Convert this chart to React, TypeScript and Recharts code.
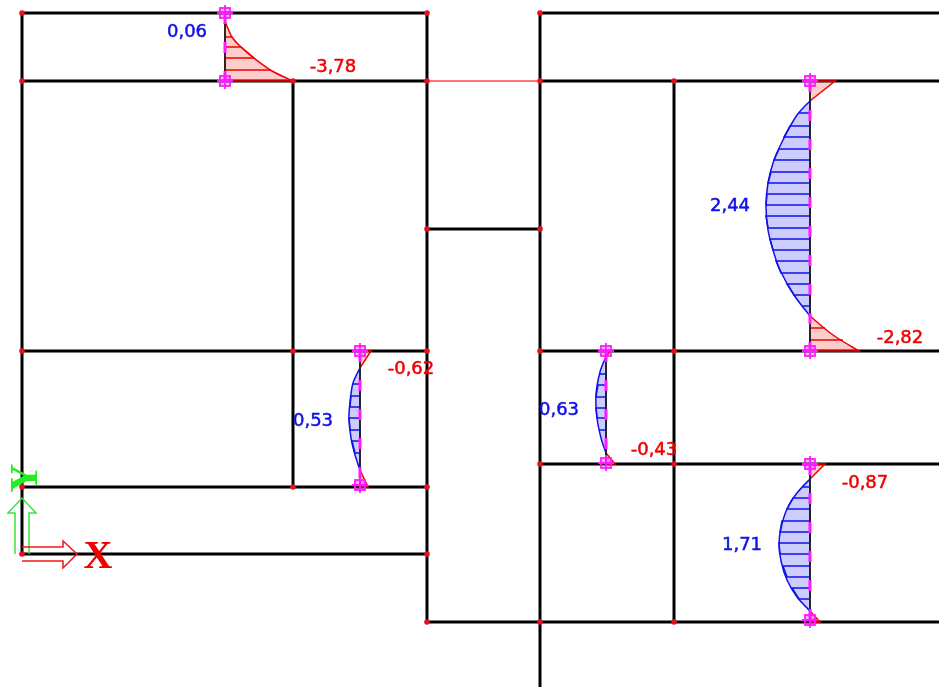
import React from "react";
import { LabelList, Scatter, ScatterChart, XAxis, YAxis } from "recharts";

type Pt = { x: number; y: number };
const pts = (rows: number[][]): Pt[] => rows.map(([x, y]) => ({ x, y }));

// frame members, drawing units
const frameLines = [
  [[22, 13], [427, 13]],
  [[540, 13], [939, 13]],
  [[22, 81], [427, 81]],
  [[540, 81], [939, 81]],
  [[427, 229], [540, 229]],
  [[22, 351], [427, 351]],
  [[540, 351], [939, 351]],
  [[540, 464], [939, 464]],
  [[22, 487], [427, 487]],
  [[22, 554], [427, 554]],
  [[427, 622], [939, 622]],
  [[22, 13], [22, 554]],
  [[427, 13], [427, 622]],
  [[540, 13], [540, 687]],
  [[293, 81], [293, 487]],
  [[674, 81], [674, 622]],
];
const linkLine = [[427, 81], [540, 81]];
const nodes = [
  [22, 13], [427, 13], [540, 13], [22, 81], [293, 81], [427, 81], [540, 81], [674, 81],
  [427, 229], [540, 229], [22, 351], [293, 351], [427, 351], [540, 351], [674, 351],
  [540, 464], [674, 464], [22, 487], [293, 487], [427, 487], [22, 554], [427, 554],
  [427, 622], [540, 622], [674, 622],
];
const checkedMembers = [
  [[225, 13], [225, 81]],
  [[810, 81], [810, 351]],
  [[360, 351], [360, 485]],
  [[606, 351], [606, 463]],
  [[810, 464], [810, 620]],
];

// moment diagrams: curve points, optional closing corner, hatch rows as [y, end x]
const redA = [[225, 21], [232, 37], [242, 48], [255, 59], [272, 71], [293, 81]];
const redAHatch = [[37, 232], [47, 241], [58, 254], [70, 270]];
const redB1 = [[810, 81], [835, 81], [810, 101]];
const blueB = [[810, 101], [797, 115], [784, 138], [774, 160], [768, 183], [766, 207], [768, 230], [773, 250], [780, 270], [794, 295], [810, 316]];
const blueBHatch = [[113, 799], [126, 790], [137, 784], [149, 779], [160, 774], [172, 771], [183, 768], [194, 767], [205, 766], [216, 766], [228, 768], [239, 770], [250, 773], [261, 776], [273, 781], [284, 787], [295, 794], [306, 802]];
const redB2 = [[810, 316], [833, 335], [859, 351]];
const redB2Hatch = [[328, 825], [340, 843]];
const redC1 = [[360, 351], [371, 351], [360, 368]];
const blueC = [[360, 368], [353, 383], [350, 402], [349, 418], [351, 438], [355, 455], [360, 470]];
const blueCHatch = [[384, 353], [396, 351], [407, 350], [418, 349], [430, 350], [441, 352], [453, 355]];
const redC2 = [[360, 470], [368, 487], [360, 487]];
const redD1 = [[606, 351], [610, 351], [606, 357]];
const blueD = [[606, 357], [600, 372], [596, 395], [597, 418], [601, 438], [606, 453]];
const blueDHatch = [[374, 600], [385, 598], [397, 596], [408, 596], [418, 597], [430, 599]];
const redD2 = [[606, 453], [615, 464], [606, 464]];
const redE1 = [[810, 464], [825, 464], [810, 479]];
const blueE = [[810, 479], [797, 493], [787, 509], [781, 528], [779, 544], [781, 561], [787, 580], [797, 597], [810, 611]];
const blueEHatch = [[487, 803], [498, 793], [509, 787], [521, 782], [532, 780], [543, 779], [554, 780], [566, 783], [577, 787], [588, 792], [599, 799]];
const redE2 = [[810, 611], [820, 622], [810, 622]];

const markers = [[225, 13], [225, 81], [810, 81], [810, 351], [360, 351], [360, 485], [606, 351], [606, 463], [810, 464], [810, 620]];

const blueLabels = [
  { x: 187, y: 31, text: "0,06" },
  { x: 730, y: 205, text: "2,44" },
  { x: 313, y: 420, text: "0,53" },
  { x: 559, y: 409, text: "0,63" },
  { x: 742, y: 544, text: "1,71" },
];
const redLabels = [
  { x: 333, y: 66, text: "-3,78" },
  { x: 900, y: 337, text: "-2,82" },
  { x: 411, y: 368, text: "-0,62" },
  { x: 654, y: 449, text: "-0,43" },
  { x: 865, y: 482, text: "-0,87" },
];
const axisLetters = [
  { x: 98, y: 554, text: "X", color: "#f00000", turn: false },
  { x: 23, y: 478, text: "Y", color: "#22ee22", turn: true },
];

const greenArrow = [[15, 554], [15, 513], [8, 513], [22, 498], [36, 513], [29, 513], [29, 554]];
const redArrow = [[22, 547], [63, 547], [63, 541], [77, 554], [63, 568], [63, 561], [22, 561]];

const RED = "#f00000";
const BLUE = "#1010e8";
const RED_FILL = "rgba(255,0,0,0.2)";
const BLUE_FILL = "rgba(0,0,255,0.2)";
const noDot = () => <g />;

// catmull-rom through the read points, so the bending curves come out round
const splineTo = (p: Pt[]) => {
  let d = `M${p[0].x} ${p[0].y}`;
  for (let i = 0; i < p.length - 1; i++) {
    const a = p[Math.max(i - 1, 0)], b = p[i], c = p[i + 1], e = p[Math.min(i + 2, p.length - 1)];
    d += ` C${b.x + (c.x - a.x) / 6} ${b.y + (c.y - a.y) / 6} ${c.x - (e.x - b.x) / 6} ${c.y - (e.y - b.y) / 6} ${c.x} ${c.y}`;
  }
  return d;
};

const pathLine = (stroke: string, width: number, fill = "none", closed = false, dash?: string, smooth = false, corner = false) => (p: any) => {
  const points: Pt[] = p.points;
  const head = corner ? points.slice(0, -1) : points;
  let d = smooth ? splineTo(head) : head.map((q, i) => `${i ? "L" : "M"}${q.x} ${q.y}`).join(" ");
  if (corner) d += ` L${points[points.length - 1].x} ${points[points.length - 1].y}`;
  if (closed) d += " Z";
  return <path d={d} fill={fill} stroke={stroke} strokeWidth={width} strokeDasharray={dash} />;
};

const polyline = (key: string, rows: number[][], stroke: string, width: number, fill = "none", closed = false, dash?: string, smooth = false, corner = false) => (
  <Scatter key={key} data={pts(rows)} line={pathLine(stroke, width, fill, closed, dash, smooth, corner)} shape={noDot} isAnimationActive={false} />
);

// hatch rows joined into one zigzag that runs back along the member
const zigzag = (base: number, rows: number[][]) =>
  rows.flatMap(([y, end], i) => (i % 2 ? [[base, y], [end, y]] : [[end, y], [base, y]]));

const Marker = (p: any) => (
  <g stroke="#ff19ff" strokeWidth={1.8} fill="none">
    <rect x={p.cx - 5} y={p.cy - 5} width={10} height={10} fill="rgba(255,25,255,0.3)" />
    <path d={`M${p.cx - 8} ${p.cy}H${p.cx + 8}M${p.cx} ${p.cy - 8}V${p.cy + 8}`} />
  </g>
);
const NodeDot = (p: any) => <circle cx={p.cx} cy={p.cy} r={2.8} fill="#e8101c" />;
const AxisLetter = (p: any) => (
  <text
    x={p.cx}
    y={p.cy}
    textAnchor="middle"
    dominantBaseline="central"
    fontFamily="'Liberation Serif'"
    fontWeight="bold"
    fontSize={40}
    fill={p.payload.color}
    transform={p.payload.turn ? `rotate(-90 ${p.cx} ${p.cy})` : undefined}
  >
    {p.payload.text}
  </text>
);

const curved = (key: string, color: string, fill: string, curve: number[][], base?: number, hatch?: number[][], corner?: number[]) => [
  polyline(key, corner ? [...curve, corner] : curve, color, 1.5, fill, true, undefined, true, !!corner),
  ...(hatch && base ? [polyline(key + "h", zigzag(base, hatch), color, 1.5)] : []),
];
const wedge = (key: string, outline: number[][]) => polyline(key, outline, RED, 1.5, RED_FILL, true);

export default function App() {
  return (
    <div style={{ position: "absolute", left: 0, top: 0, width: 939, height: 687, overflow: "hidden", filter: "blur(0.6px)" }}>
      <ScatterChart width={939} height={687} margin={{ top: 0, right: 0, bottom: 0, left: 0 }}>
        <XAxis type="number" dataKey="x" domain={[0, 939]} hide />
        <YAxis type="number" dataKey="y" domain={[0, 687]} reversed hide />
        {frameLines.map((l, i) => polyline(`f${i}`, l, "#000000", 3))}
        {polyline("link", linkLine, "#ff4a4a", 1.5)}

        {curved("ra", RED, RED_FILL, redA, 225, redAHatch, [225, 81])}
        {wedge("rb1", redB1)}
        {curved("bb", BLUE, BLUE_FILL, blueB, 810, blueBHatch)}
        {curved("rb2", RED, RED_FILL, redB2, 810, redB2Hatch, [810, 351])}
        {wedge("rc1", redC1)}
        {curved("bc", BLUE, BLUE_FILL, blueC, 360, blueCHatch)}
        {wedge("rc2", redC2)}
        {wedge("rd1", redD1)}
        {curved("bd", BLUE, BLUE_FILL, blueD, 606, blueDHatch)}
        {wedge("rd2", redD2)}
        {wedge("re1", redE1)}
        {curved("be", BLUE, BLUE_FILL, blueE, 810, blueEHatch)}
        {wedge("re2", redE2)}

        {checkedMembers.map((l, i) => polyline(`m${i}`, l, "#222222", 1.8))}
        {checkedMembers.map((l, i) => polyline(`d${i}`, l, "#ff19ff", 3, "none", false, "11 18"))}
        {polyline("ga", greenArrow, "#39e639", 1.5)}
        {polyline("ra2", redArrow, "#f01818", 1.5)}
        <Scatter data={pts(nodes)} shape={NodeDot} isAnimationActive={false} />
        <Scatter data={pts(markers)} shape={Marker} isAnimationActive={false} />

        <Scatter data={blueLabels} shape={noDot} isAnimationActive={false}>
          <LabelList dataKey="text" position="center" fill={BLUE} stroke={BLUE} strokeWidth={0.5} fontSize={18} fontFamily="'DejaVu Sans'" />
        </Scatter>
        <Scatter data={redLabels} shape={noDot} isAnimationActive={false}>
          <LabelList dataKey="text" position="center" fill={RED} stroke={RED} strokeWidth={0.5} fontSize={18} fontFamily="'DejaVu Sans'" />
        </Scatter>
        <Scatter data={axisLetters} shape={AxisLetter} isAnimationActive={false} />
      </ScatterChart>
    </div>
  );
}
